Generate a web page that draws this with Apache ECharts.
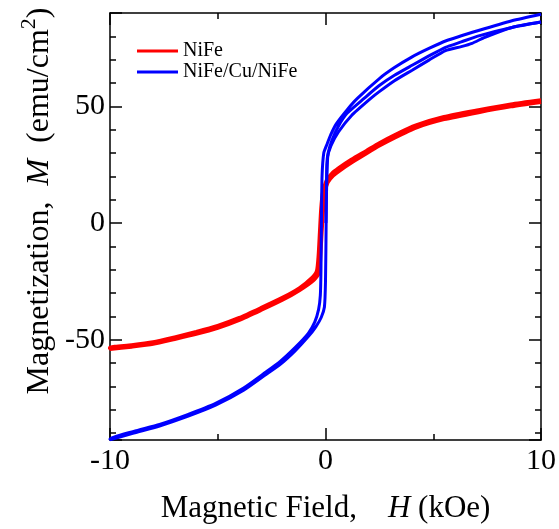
<!DOCTYPE html>
<html>
<head>
<meta charset="utf-8">
<script src="https://cdn.jsdelivr.net/npm/echarts@6/dist/echarts.min.js"></script>
<style>html,body{margin:0;padding:0;background:#fff}#c{width:559px;height:529px}</style>
</head>
<body>
<div id="c"></div>
<script>
// ---- Data (H in kOe, M in emu/cm^2) ----
const seriesNames = ['NiFe', 'NiFe/Cu/NiFe'];
const xTickLabels = ['-10', '0', '10'];
const yTickLabels = ['-50', '0', '50'];

// NiFe: descending branch (+10 -> -10)
const nifeDown = [
  [10, 52.6], [8.6, 50.8], [7.1, 48.3], [5.5, 45.4], [4.2, 41.8], [3.2, 37.6],
  [2.5, 34.2], [1.9, 30.9], [1.2, 27.1], [0.6, 23.4], [0.3, 21.2], [0.05, 18.2],
  [-0.12, 13], [-0.2, 6], [-0.26, -4], [-0.32, -14], [-0.4, -20.6], [-0.65, -23.8],
  [-1.2, -27.9], [-2, -32.1], [-3, -36.5], [-4, -40.7], [-5, -44.1], [-6, -46.7],
  [-7, -49.0], [-8, -51.1], [-9, -52.4], [-10, -53.4]
];
// NiFe: ascending branch (-10 -> +10)
const nifeUp = [
  [-10, -54.0], [-9, -53.0], [-8, -51.8], [-7, -49.7], [-6, -47.5], [-5, -44.9],
  [-4, -41.5], [-3, -37.3], [-2, -32.9], [-1.2, -28.7], [-0.55, -24.4], [-0.3, -21.3],
  [-0.24, -14], [-0.18, -4], [-0.11, 6], [-0.04, 13], [0.1, 17.4], [0.35, 20.3],
  [0.65, 22.5], [1.25, 26.2], [1.9, 29.9], [2.5, 33.2], [3.2, 36.6], [4.2, 40.9],
  [5.5, 44.5], [7.1, 47.5], [8.6, 50.0], [10, 51.9]
];

// NiFe/Cu/NiFe: initial curve (0 -> +10)
const tri0 = [
  [0.02, 0], [0.1, 28], [0.25, 33], [0.6, 39], [1.2, 46], [2.1, 53.4],
  [2.48, 56.2], [3.2, 61], [4.02, 65.5], [4.8, 69.8], [5.57, 73.9], [6.3, 75.6],
  [6.8, 77.0], [7.4, 79.6], [8.65, 83.8], [10, 86.1]
];
// NiFe/Cu/NiFe: descending branch (+10 -> -10)
const triDown = [
  [10, 89.5], [8.65, 86.7], [7.1, 82.5], [5.6, 78.1], [4.8, 74.8], [4.0, 71.1],
  [3.2, 66.6], [2.5, 61.9], [1.48, 53.4], [1.0, 48.5], [0.5, 42.5], [0.25, 38],
  [0.08, 34], [-0.08, 30], [-0.16, 20], [-0.19, 0], [-0.21, -20], [-0.24, -31],
  [-0.32, -37], [-0.5, -42.5], [-0.8, -47.3], [-1.4, -53.3], [-2.1, -59.3],
  [-2.8, -64.1], [-3.8, -70.7], [-5.1, -77.3], [-6.4, -82.1], [-7.7, -86.3],
  [-8.9, -89.3], [-10, -92.5]
];
// NiFe/Cu/NiFe: ascending branch (-10 -> +10)
const triUp = [
  [-10, -92.9], [-8.9, -90.0], [-7.7, -87.0], [-6.4, -82.9], [-5.1, -78.1],
  [-3.8, -71.7], [-2.8, -65.2], [-2.1, -60.6], [-1.4, -54.7], [-0.8, -48.7],
  [-0.45, -44.5], [-0.2, -40.5], [-0.05, -36], [0.0, -25], [0.03, 0], [0.06, 25],
  [0.12, 30], [0.3, 35.5], [0.6, 41.5], [1.0, 47], [1.79, 53.4], [2.48, 58.8],
  [3.2, 63.3], [4.02, 67.6], [4.8, 71.6], [5.57, 75.3], [6.3, 77.6], [7.11, 80.2],
  [8.65, 83.8], [10, 86.1]
];

const FONT = '"Liberation Serif", "Times New Roman", serif';
const chart = echarts.init(document.getElementById('c'), null, {renderer: 'canvas'});

function xAx(pos, showLabel) {
  return {
    type: 'value', position: pos, min: -10, max: 10, interval: 10,
    axisLine: {show: true, onZero: false, lineStyle: {color: '#000', width: 1.5}},
    axisTick: {show: true, inside: true, length: 12, lineStyle: {color: '#000', width: 1.5}},
    minorTick: {show: true, splitNumber: 2, length: 6, lineStyle: {color: '#000', width: 1.5}},
    splitLine: {show: false}, minorSplitLine: {show: false},
    axisLabel: {
      show: showLabel, color: '#000', fontFamily: FONT, fontSize: 30, margin: 6,
      formatter: v => xTickLabels.indexOf(String(v)) >= 0 ? String(v) : ''
    }
  };
}
function yAx(pos, showLabel) {
  return {
    type: 'value', position: pos, min: -93, max: 90, splitNumber: 4,
    axisLine: {show: true, onZero: false, lineStyle: {color: '#000', width: 1.5}},
    axisTick: {show: true, inside: true, length: 12, lineStyle: {color: '#000', width: 1.5}},
    minorTick: {show: true, splitNumber: 5, length: 6, lineStyle: {color: '#000', width: 1.5}},
    splitLine: {show: false}, minorSplitLine: {show: false},
    axisLabel: {
      show: showLabel, color: '#000', fontFamily: FONT, fontSize: 30, margin: 5,
      showMinLabel: false, showMaxLabel: false,
      formatter: v => yTickLabels.indexOf(String(v)) >= 0 ? String(v) : ''
    }
  };
}

const xBottom = xAx('bottom', true);
xBottom.name = '{a|Magnetic Field,    }{i|H}{a| (kOe)}';
xBottom.nameLocation = 'middle';
xBottom.nameGap = 53;
xBottom.nameTextStyle = {
  color: '#000', fontFamily: FONT, fontSize: 31,
  rich: {
    a: {color: '#000', fontFamily: FONT, fontSize: 31},
    i: {color: '#000', fontFamily: FONT, fontSize: 31, fontStyle: 'italic'}
  }
};

const lineBase = {type: 'line', showSymbol: false, symbol: 'none', animation: false, smooth: 0.2};

chart.setOption({
  animation: false,
  backgroundColor: '#fff',
  grid: {left: 110, right: 16, top: 13, bottom: 83, containLabel: false},
  xAxis: [xBottom, xAx('top', false)],
  yAxis: [yAx('left', true), yAx('right', false)],
  legend: {
    show: true, data: seriesNames, orient: 'vertical', left: 132, top: 36,
    icon: 'rect', itemWidth: 41, itemHeight: 3, itemGap: 1,
    textStyle: {color: '#000', fontFamily: FONT, fontSize: 20}
  },
  graphic: [{
    type: 'text', x: 37, y: 201, rotation: Math.PI / 2,
    style: {
      text: '{a|Magnetization,  }{i|M}{a|  (emu/cm}{s|2}{a|)}',
      align: 'center', verticalAlign: 'middle', fill: '#000',
      font: '32px ' + FONT,
      rich: {
        a: {fontFamily: FONT, fontSize: 32, fill: '#000', lineHeight: 38, verticalAlign: 'bottom'},
        i: {fontFamily: FONT, fontSize: 32, fontStyle: 'italic', fill: '#000', lineHeight: 38, verticalAlign: 'bottom'},
        s: {fontFamily: FONT, fontSize: 22, fill: '#000', lineHeight: 38, verticalAlign: 'top'}
      }
    }
  }],
  series: [
    Object.assign({}, lineBase, {name: seriesNames[0], data: nifeDown.concat(nifeUp),
      itemStyle: {color: '#ff0000'}, lineStyle: {color: '#ff0000', width: 4}}),
    Object.assign({}, lineBase, {name: seriesNames[1], data: tri0,
      itemStyle: {color: '#0000ff'}, lineStyle: {color: '#0000ff', width: 3}}),
    Object.assign({}, lineBase, {name: seriesNames[1], data: triDown.concat(triUp),
      itemStyle: {color: '#0000ff'}, lineStyle: {color: '#0000ff', width: 3}})
  ]
});
</script>
</body>
</html>
